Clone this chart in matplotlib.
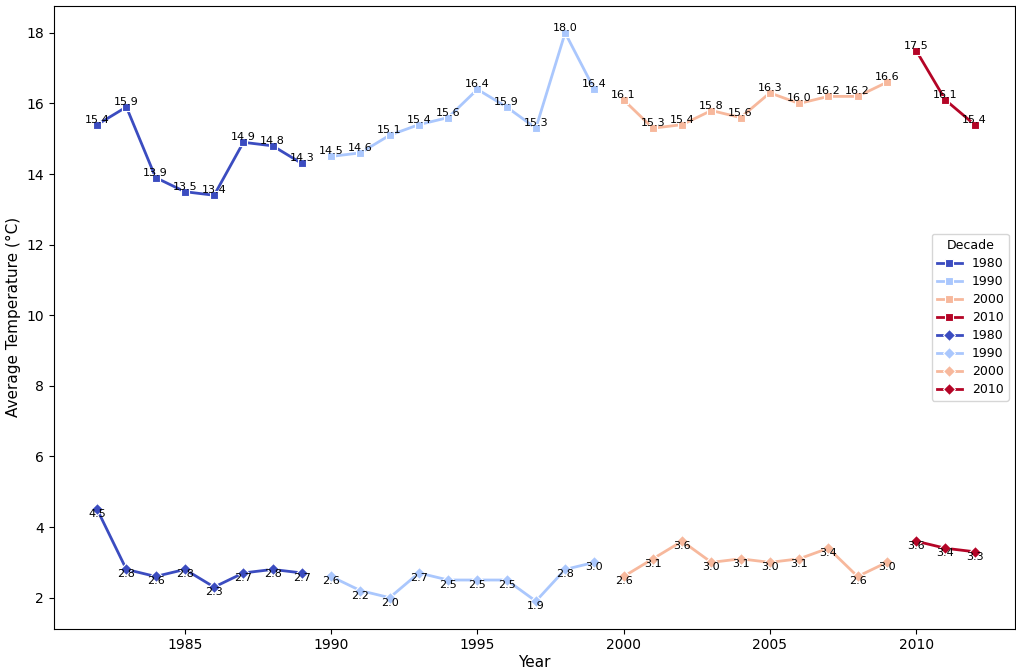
import numpy as np
import matplotlib.pyplot as plt

# yearly values
years = list(range(1982, 2013))
avg_temp = [15.4, 15.9, 13.9, 13.5, 13.4, 14.9, 14.8, 14.3,
            14.5, 14.6, 15.1, 15.4, 15.6, 16.4, 15.9, 15.3, 18.0, 16.4,
            16.1, 15.3, 15.4, 15.8, 15.6, 16.3, 16.0, 16.2, 16.2, 16.6,
            17.5, 16.1, 15.4]
low_temp = [4.5, 2.8, 2.6, 2.8, 2.3, 2.7, 2.8, 2.7,
            2.6, 2.2, 2.0, 2.7, 2.5, 2.5, 2.5, 1.9, 2.8, 3.0,
            2.6, 3.1, 3.6, 3.0, 3.1, 3.0, 3.1, 3.4, 2.6, 3.0,
            3.6, 3.4, 3.3]
decades = [1980, 1990, 2000, 2010]

colors = plt.cm.coolwarm(np.linspace(0, 1, len(decades)))

years = np.array(years)
avg_temp = np.array(avg_temp)
low_temp = np.array(low_temp)
dec_of = (years // 10) * 10

fig, ax = plt.subplots(figsize=(10.16, 6.71), dpi=100)

for series, marker in [(avg_temp, 's'), (low_temp, 'D')]:
    for d, c in zip(decades, colors):
        m = dec_of == d
        ax.plot(years[m], series[m], marker=marker, color=c, lw=2, ms=6,
                mec='white', mew=0.8, label=str(d))

# value labels
for x, y in zip(years, avg_temp):
    ax.text(x, y, f'{y:.1f}', ha='center', va='bottom', fontsize=8)
for x, y in zip(years, low_temp):
    ax.text(x, y, f'{y:.1f}', ha='center', va='top', fontsize=8)

ax.set_xlim(1980.52, 2013.38)
ax.set_ylim(1.12, 18.76)
ax.set_xlabel('Year', fontsize=11, labelpad=2)
ax.set_ylabel('Average Temperature (°C)', fontsize=11)
ax.legend(title='Decade', loc='center right', fontsize=9, title_fontsize=9,
          labelspacing=0.4)

fig.subplots_adjust(left=0.053, right=0.999, top=0.991, bottom=0.063)
plt.savefig('out.png')
